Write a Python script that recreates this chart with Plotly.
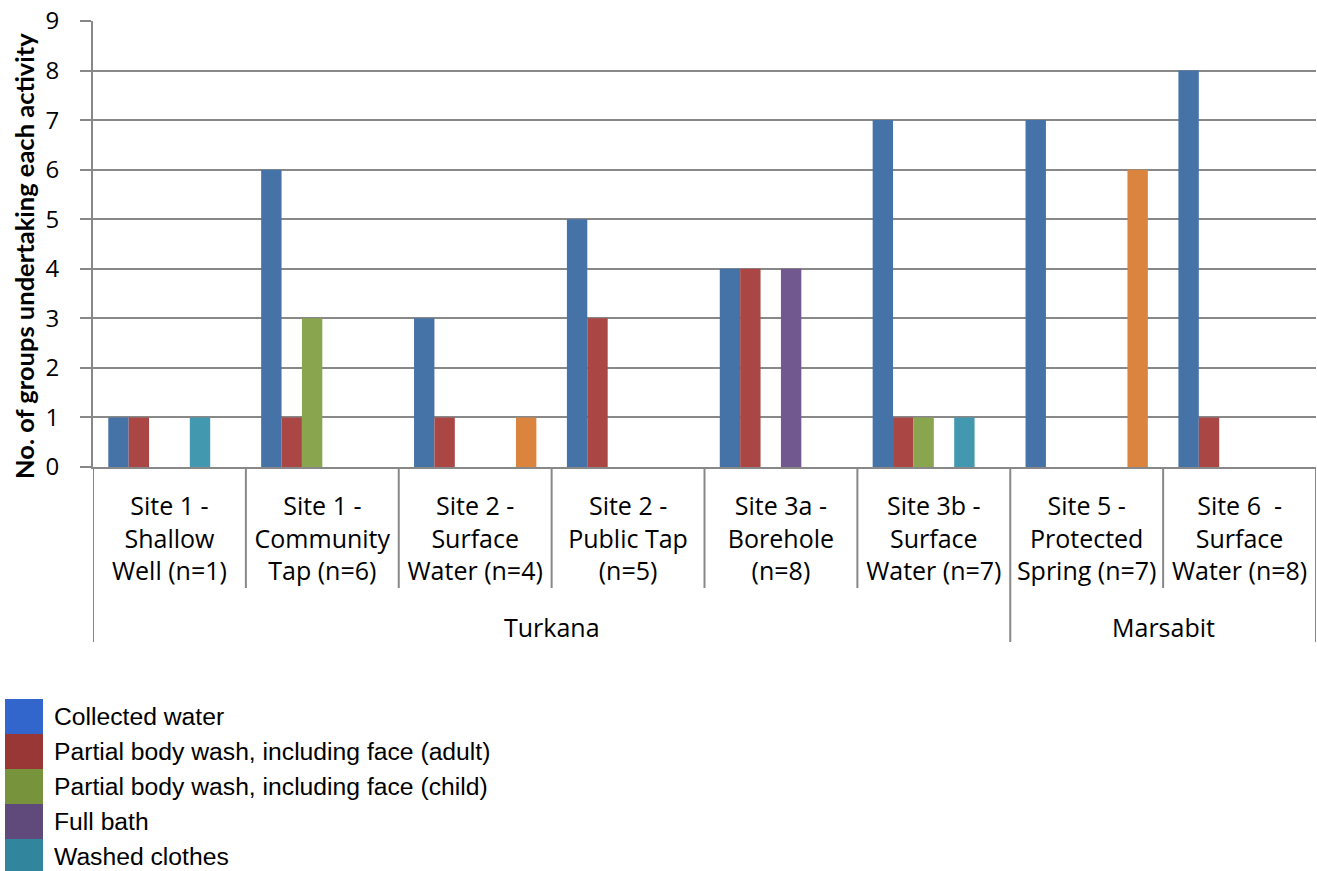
import plotly.graph_objects as go

regions = ["Turkana", "Turkana", "Turkana", "Turkana", "Turkana", "Turkana", "Marsabit", "Marsabit"]
sites = [
    "Site 1 -<br>Shallow<br>Well (n=1)",
    "Site 1 -<br>Community<br>Tap (n=6)",
    "Site 2 -<br>Surface<br>Water (n=4)",
    "Site 2 -<br>Public Tap<br>(n=5)",
    "Site 3a -<br>Borehole<br>(n=8)",
    "Site 3b -<br>Surface<br>Water (n=7)",
    "Site 5 -<br>Protected<br>Spring (n=7)",
    "Site 6  -<br>Surface<br>Water (n=8)",
]
series_names = [
    "Collected water",
    "Partial body wash, including face (adult)",
    "Partial body wash, including face (child)",
    "Full bath",
    "Washed clothes",
    "Other",
]
collected_water = [1, 6, 3, 5, 4, 7, 7, 8]
wash_adult = [1, 1, 1, 3, 4, 1, 0, 1]
wash_child = [0, 3, 0, 0, 0, 1, 0, 0]
full_bath = [0, 0, 0, 0, 4, 0, 0, 0]
washed_clothes = [1, 0, 0, 0, 0, 1, 0, 0]
other = [0, 0, 1, 0, 0, 0, 6, 0]
series_values = [collected_water, wash_adult, wash_child, full_bath, washed_clothes, other]

bar_colors = ["#4572A7", "#AA4643", "#89A54E", "#71588F", "#4198AF", "#DB843D"]
legend_colors = ["#3366CC", "#983735", "#77933C", "#604A7B", "#31859C"]

W, H = 1317, 871
ML, MR, MT, MB = 93, 1, 21, 404
PW = W - ML - MR
PH = H - MT - MB
LABEL_FONT = "Open Sans"

def px_x(px):
    return (px - ML) / PW

def px_y(py):
    return (H - MB - py) / PH

fig = go.Figure()
x_idx = list(range(len(sites)))
for name, vals, col in zip(series_names, series_values, bar_colors):
    fig.add_trace(go.Bar(x=x_idx, y=vals, name=name, marker=dict(color=col, line=dict(width=0)),
                         showlegend=False))

shapes = []
group_bounds = set()
for i in range(len(regions) + 1):
    if i == 0 or i == len(regions) or regions[i] != regions[i - 1]:
        group_bounds.add(i)
for i in range(len(sites) + 1):
    bottom = 642 if i in group_bounds else 588
    shapes.append(dict(type="line", xref="x", yref="paper", x0=i - 0.5, x1=i - 0.5,
                       y0=0, y1=px_y(bottom), line=dict(color="#888888", width=2)))

annotations = []
start = 0
for i in range(1, len(regions) + 1):
    if i == len(regions) or regions[i] != regions[start]:
        annotations.append(dict(x=(start + i - 1) / 2, xref="x", y=px_y(627), yref="paper",
                                text=regions[start], showarrow=False, yanchor="middle",
                                font=dict(family=LABEL_FONT, size=25, color="#000000")))
        start = i

annotations.append(dict(x=px_x(24), xref="paper", y=px_y(256), yref="paper",
                        text="<b>No. of groups undertaking each activity</b>", textangle=-90,
                        showarrow=False, xanchor="center", yanchor="middle",
                        font=dict(family="Lato", size=25.5, color="#000000")))

for k in range(5):
    top = 699 + 35 * k
    shapes.append(dict(type="rect", xref="paper", yref="paper", x0=px_x(5), x1=px_x(43),
                       y0=px_y(top), y1=px_y(top + 35), fillcolor=legend_colors[k],
                       line=dict(width=0)))
    annotations.append(dict(x=px_x(52), xref="paper", y=px_y(top + 17.5), yref="paper",
                            text=series_names[k], showarrow=False, xanchor="left",
                            yanchor="middle",
                            font=dict(family="Liberation Sans, Arial", size=24.7, color="#000000")))

fig.update_layout(
    width=W, height=H,
    margin=dict(l=ML, r=MR, t=MT, b=MB),
    paper_bgcolor="white", plot_bgcolor="white",
    barmode="group", bargap=0.2, bargroupgap=0,
    shapes=shapes, annotations=annotations,
    font=dict(family=LABEL_FONT, color="#000000"),
)
fig.update_xaxes(
    tickmode="array", tickvals=x_idx, ticktext=sites, range=[-0.5, len(sites) - 0.5],
    showline=True, linecolor="#888888", linewidth=2, ticks="", showgrid=False,
    tickfont=dict(family=LABEL_FONT, size=25, color="#000000"), ticklabelstandoff=16,
    tickangle=0,
)
fig.update_yaxes(
    range=[0, 9], dtick=1, showgrid=True, gridcolor="#888888", gridwidth=2,
    showline=True, linecolor="#888888", linewidth=2, ticks="outside", ticklen=11,
    tickcolor="#888888", tickwidth=2, zeroline=False,
    tickfont=dict(family=LABEL_FONT, size=24, color="#000000"), ticklabelstandoff=16,
)

fig.write_html("out.html")
